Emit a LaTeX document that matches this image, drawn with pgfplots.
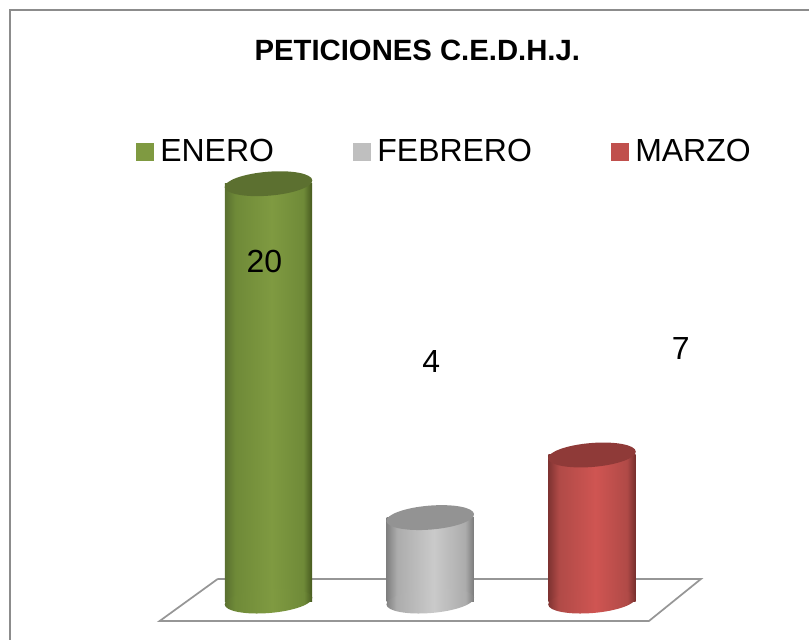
\documentclass[border=0pt]{standalone}
\usepackage{fontspec}
\setmainfont{Liberation Sans}
\usepackage{pgfplots}
\pgfplotsset{compat=1.18}
\definecolor{gfill}{HTML}{7F9A41}
\definecolor{gtop}{HTML}{5C7030}
\definecolor{gl}{HTML}{5A7030}
\definecolor{gm}{HTML}{6F8A38}
\definecolor{gr}{HTML}{46591F}
\definecolor{sfill}{HTML}{BFBFBF}
\definecolor{stopc}{HTML}{939393}
\definecolor{sl}{HTML}{808080}
\definecolor{sm}{HTML}{ACACAC}
\definecolor{sh}{HTML}{CACACA}
\definecolor{sr}{HTML}{7A7A7A}
\definecolor{rfill}{HTML}{C0504D}
\definecolor{rtop}{HTML}{8F3A38}
\definecolor{rl}{HTML}{7F3331}
\definecolor{rm}{HTML}{B04A47}
\definecolor{rh}{HTML}{CF5552}
\definecolor{rr}{HTML}{752E2C}
\definecolor{framec}{HTML}{8C8C8C}
\definecolor{floorline}{HTML}{969696}

\pgfdeclarehorizontalshading{greenbar}{100bp}{
  color(0bp)=(gl); color(25bp)=(gl); color(31bp)=(gm); color(52bp)=(gfill);
  color(70bp)=(gm); color(75bp)=(gr); color(100bp)=(gr)}
\pgfdeclarehorizontalshading{greybar}{100bp}{
  color(0bp)=(sl); color(25bp)=(sl); color(31bp)=(sm); color(52bp)=(sh);
  color(70bp)=(sm); color(75bp)=(sr); color(100bp)=(sr)}
\pgfdeclarehorizontalshading{redbar}{100bp}{
  color(0bp)=(rl); color(25bp)=(rl); color(31bp)=(rm); color(52bp)=(rh);
  color(70bp)=(rm); color(75bp)=(rr); color(100bp)=(rr)}

% cylinder ends, tilted a little
\newcommand{\capellipse}{\pgfpathellipse{\pgfpointorigin}{\pgfqpoint{32.9pt}{2.65pt}}{\pgfqpoint{-0.72pt}{8.97pt}}}
\pgfdeclareplotmark{cap}{\capellipse\pgfusepathqfill}
\pgfdeclareplotmark{gbase}{\capellipse\pgfshadepath{greenbar}{0}\pgfusepath{discard}}
\pgfdeclareplotmark{sbase}{\capellipse\pgfshadepath{greybar}{0}\pgfusepath{discard}}
\pgfdeclareplotmark{rbase}{\capellipse\pgfshadepath{redbar}{0}\pgfusepath{discard}}

\pgfplotsset{
  swatch/.style={legend image code/.code={
    \fill[#1] (0pt,-6.4pt) rectangle (12.8pt,6.4pt);}},
  cyl/.style={ybar,bar width=65.6pt,bar shift=0pt,draw=none,shade,shading=#1,forget plot},
}

\begin{document}
\begin{tikzpicture}
\begin{axis}[
  scale only axis,
  width=607.5pt,height=480.75pt,
  hide axis,
  clip=false,
  xmin=-1.660,xmax=3.340,
  ymin=-1.866,ymax=28.804,
  title={\fontsize{22}{26}\selectfont\bfseries PETICIONES C.E.D.H.J.},
  title style={at={(rel axis cs:0.516,0.9095)},anchor=center,inner sep=0pt},
  legend columns=3,
  legend style={
    at={(rel axis cs:0.168,0.763)},anchor=west,
    draw=none,fill=none,inner sep=0pt,
    font=\fontsize{24}{28}\selectfont,
    /tikz/every odd column/.append style={column sep=3pt},
    /tikz/every even column/.append style={column sep=57.5pt},
  },
]
\addplot[floorline,line width=1.3pt,forget plot] coordinates {
  (-0.315,1.053) (2.673,1.053) (2.352,-0.957) (-0.673,-0.957) (-0.315,1.053)};

\addplot[cyl=greenbar] coordinates {(0,20)};
\addplot[only marks,mark=gbase,forget plot] coordinates {(0,0)};
\addplot[only marks,mark=cap,mark options={fill=gtop,draw=none},forget plot] coordinates {(0,20)};

\addplot[cyl=greybar] coordinates {(1,4)};
\addplot[only marks,mark=sbase,forget plot] coordinates {(1,0)};
\addplot[only marks,mark=cap,mark options={fill=stopc,draw=none},forget plot] coordinates {(1,4)};

\addplot[cyl=redbar] coordinates {(2,7)};
\addplot[only marks,mark=rbase,forget plot] coordinates {(2,0)};
\addplot[only marks,mark=cap,mark options={fill=rtop,draw=none},forget plot] coordinates {(2,7)};

\addlegendimage{swatch=gfill}
\addlegendentry{ENERO}
\addlegendimage{swatch=sfill}
\addlegendentry{FEBRERO}
\addlegendimage{swatch=rfill}
\addlegendentry{MARZO}

\node[font=\fontsize{24}{28}\selectfont] at (axis cs:-0.025,16.27) {20};
\node[font=\fontsize{24}{28}\selectfont] at (axis cs:1.006,11.48) {4};
\node[font=\fontsize{24}{28}\selectfont] at (axis cs:2.549,12.1) {7};

\draw[framec,line width=1.9pt] (rel axis cs:0.0123,0) -- (rel axis cs:0.0123,0.9844) -- (rel axis cs:1,0.9844);
\end{axis}
\useasboundingbox (0,0) rectangle (607.5pt,480.75pt);
\end{tikzpicture}
\end{document}
